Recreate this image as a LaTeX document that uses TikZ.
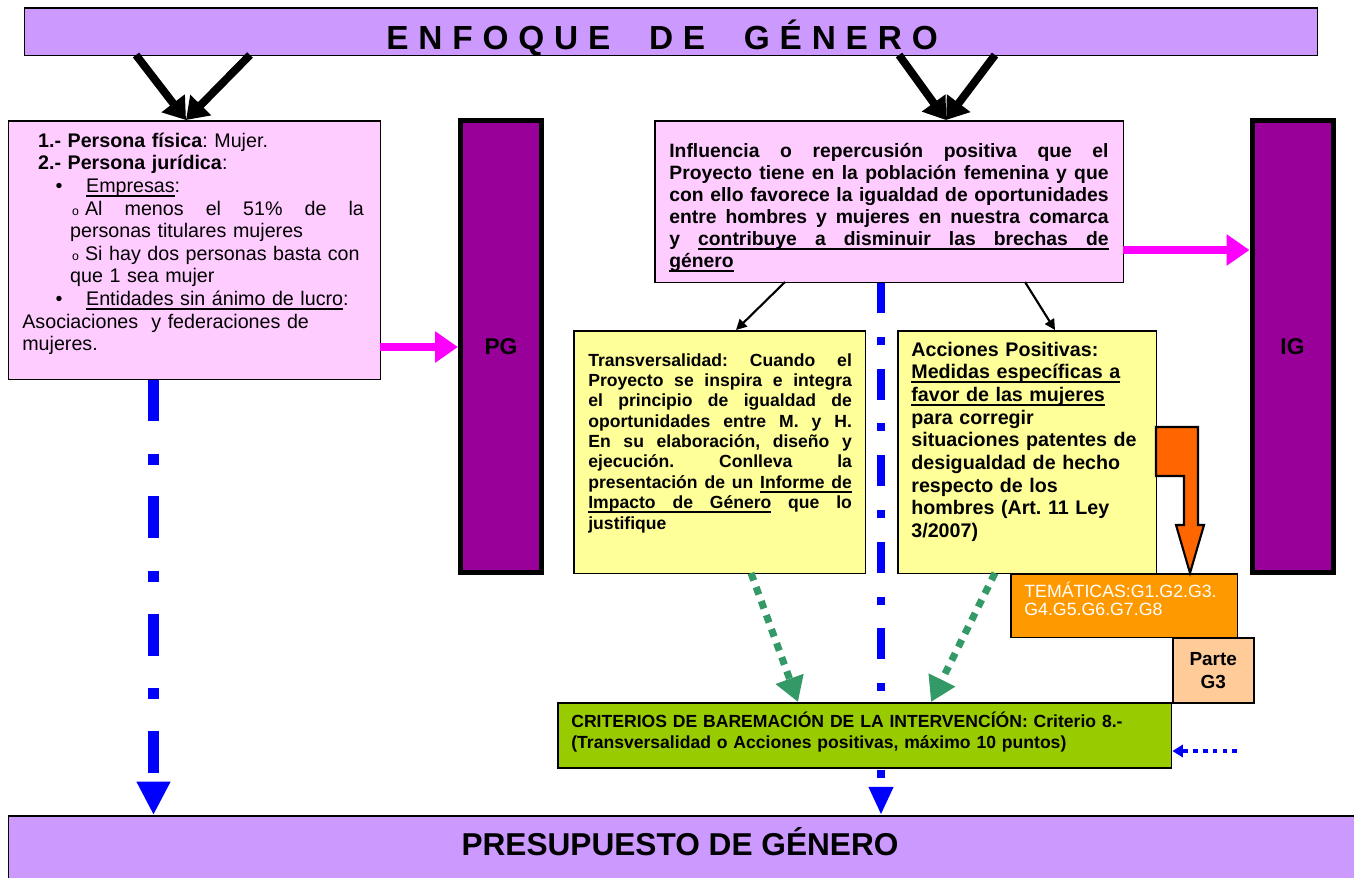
\documentclass[tikz,border=0pt]{standalone}
\usepackage{fontspec}
\setmainfont{Liberation Sans}
\usetikzlibrary{arrows.meta}

\definecolor{lila}{HTML}{CC99FF}
\definecolor{rosa}{HTML}{FFCCFF}
\definecolor{morado}{HTML}{990099}
\definecolor{amarillo}{HTML}{FFFF99}
\definecolor{naranja}{HTML}{FF9900}
\definecolor{naranjaosc}{HTML}{FF6600}
\definecolor{salmon}{HTML}{FFCC99}
\definecolor{verde}{HTML}{99CC00}
\definecolor{verdemar}{HTML}{339966}
\definecolor{fucsia}{HTML}{FF00FF}

\newcommand{\lsp}{\hspace{5.6pt}}
\newcommand{\wsp}{\hspace{22pt}}
\newcommand{\circulito}{\makebox[7.4pt][l]{\fontsize{7}{7}\selectfont o}}
% underlined word, and an underlined space that still stretches
\newcommand{\ulw}[1]{\leavevmode\setbox0\hbox{#1}\rlap{\vrule width\wd0 height -1.5pt depth 2.4pt}\box0\relax}
\newcommand{\ulsp}{\leaders\hrule height -1.5pt depth 2.4pt\hskip\fontdimen2\font plus\fontdimen3\font minus\fontdimen4\font\relax}

\begin{document}
\frenchspacing
\begin{tikzpicture}[x=0.02cm, y=-0.02cm,
    box/.style={draw=black, line width=0.85pt, inner sep=0pt, anchor=north west},
    bar/.style={draw=black, line width=2.85pt, fill=morado, inner sep=0pt,
        minimum width=1.62cm, minimum height=9.04cm, font=\fontsize{13}{13}\selectfont\bfseries},
    txt/.style={inner sep=0pt, anchor=base west},
    heavy/.style={line width=4.5pt, -{Triangle[length=12pt,width=16pt]}},
    magarrow/.style={draw=fucsia, line width=4.5pt, -{Triangle[length=13pt,width=17pt]}},
    slim/.style={line width=1.2pt, -{Triangle[length=6pt,width=6pt]}},
    dashdot/.style={draw=blue, line width=6.2pt,
        dash pattern=on 23.8pt off 18.7pt on 6.2pt off 18.1pt, -{Triangle[length=19pt,width=18pt]}},
    dashdotsmall/.style={draw=blue, line width=4.5pt,
        dash pattern=on 17.6pt off 13.6pt on 4.5pt off 13.6pt, -{Triangle[length=16pt,width=13pt]}},
    greenarrow/.style={draw=verdemar, line width=4pt, dash pattern=on 4.5pt off 4pt,
        -{Triangle[length=14pt,width=16pt]}},
    dotarrow/.style={draw=blue, line width=2.8pt, dash pattern=on 2.6pt off 3pt,
        -{Triangle[length=6pt,width=7pt]}},
]
\useasboundingbox (0,0) rectangle (1354,877);

% title
\node[box, fill=lila, minimum width=25.86cm, minimum height=0.96cm] (enfoque) at (24,7) {};
\node[txt, anchor=base, font=\fontsize{19}{19}\selectfont\bfseries] (enfoquetxt) at (662,49)
    {E\lsp N\lsp F\lsp O\lsp Q\lsp U\lsp E\wsp D\lsp E\wsp G\lsp É\lsp N\lsp E\lsp R\lsp O};

% bottom bar
\node[box, fill=lila, minimum width=27.2cm, minimum height=1.5cm] (presupuesto) at (8,815) {};
\node[txt, anchor=base, font=\fontsize{18}{18}\selectfont\bfseries] (presupuestotxt) at (680,855)
    {PRESUPUESTO DE GÉNERO};

% blue lines, behind the boxes
\coordinate (izq) at (153.5,379);
\coordinate (centro) at (881,282);
\draw[dashdot] (izq) -- (izq |- presupuesto.north);
\draw[dashdotsmall] (centro) -- (centro |- presupuesto.north);

% persona
\node[box, fill=rosa, minimum width=7.44cm, minimum height=5.18cm] (persona) at (8,120) {};
\node[txt, text width=205pt, align=left, font=\fontsize{11.2}{12.9}\selectfont] (personatxt) at (22,147) {%
\hspace*{9pt}\textbf{1.- Persona física}: Mujer.\\
\hspace*{9pt}\textbf{2.- Persona jurídica}:\\
\hspace*{19pt}\makebox[17.3pt][l]{\textbullet}\ulw{Empresas}:\\
\hspace*{28.3pt}\circulito\makebox[158.7pt][l]{Al\hfill menos\hfill el\hfill 51\%\hfill de\hfill la}\\
\hspace*{27.2pt}personas titulares mujeres\\
\hspace*{28.3pt}\circulito Si hay dos personas basta con\\
\hspace*{27.2pt}que 1 sea mujer\\
\hspace*{19pt}\makebox[17.3pt][l]{\textbullet}\ulw{Entidades sin ánimo de lucro}:\\
Asociaciones\ \ y federaciones de\\
mujeres.};

% PG and IG
\node[bar] (pg) at (501,346.5) {PG};
\node[bar] (ig) at (1292.5,346.5) {IG};

% influencia
\node[box, fill=rosa, minimum width=9.38cm, minimum height=3.24cm] (influencia) at (654,120) {};
\node[txt, text width=250pt, align=justify, font=\fontsize{11}{12.6}\selectfont\bfseries] (influenciatxt) at (669,157)
    {Influencia o repercusión positiva que el\linebreak
    Proyecto tiene en la población femenina y que\linebreak
    con ello favorece la igualdad de oportunidades\linebreak
    entre hombres y mujeres en nuestra comarca\linebreak
    y \ulw{contribuye}\ulsp\ulw{a}\ulsp\ulw{disminuir}\ulsp\ulw{las}\ulsp\ulw{brechas}\ulsp\ulw{de}\linebreak
    \ulw{género}};

% transversalidad
\node[box, fill=amarillo, minimum width=5.84cm, minimum height=4.86cm] (transv) at (573,330) {};
\node[txt, text width=150pt, align=justify, font=\fontsize{10}{11.6}\selectfont\bfseries] (transvtxt) at (588,366)
    {Transversalidad: Cuando el\linebreak
    Proyecto se inspira e integra\linebreak
    el principio de igualdad de\linebreak
    oportunidades entre M. y H.\linebreak
    En su elaboración, diseño y\linebreak
    ejecución. Conlleva la\linebreak
    presentación de un \ulw{Informe}\ulsp\ulw{de}\linebreak
    \ulw{Impacto}\ulsp\ulw{de}\ulsp\ulw{Género} que lo\linebreak
    justifique};

% acciones positivas
\node[box, fill=amarillo, minimum width=5.18cm, minimum height=4.86cm] (acciones) at (897,330) {};
\node[txt, text width=135pt, align=left, font=\fontsize{11.2}{12.9}\selectfont\bfseries] (accionestxt) at (911,356)
    {Acciones Positivas:\\
    \ulw{Medidas específicas a}\\
    \ulw{favor de las mujeres}\\
    para corregir\\
    situaciones patentes de\\
    desigualdad de hecho\\
    respecto de los\\
    hombres (Art. 11 Ley\\
    3/2007)};

% tematicas
\node[box, fill=naranja, minimum width=4.54cm, minimum height=1.28cm] (tematicas) at (1010,573) {};
\node[txt, text width=120pt, align=left, text=white, font=\fontsize{10.1}{10.8}\selectfont] (tematicastxt) at (1024,597)
    {TEMÁTICAS:G1.G2.G3.\\G4.G5.G6.G7.G8};

% parte G3
\node[box, fill=salmon, minimum width=1.62cm, minimum height=1.3cm] (parte) at (1172,637) {};
\node[align=center, inner sep=0pt, font=\fontsize{10.8}{13}\selectfont\bfseries] (partetxt) at (parte.center)
    {Parte\\G3};

% criterios
\node[box, fill=verde, minimum width=12.28cm, minimum height=1.3cm] (criterios) at (557,702) {};
\node[txt, text width=330pt, align=left, font=\fontsize{10}{12}\selectfont\bfseries] (criteriostxt) at (571,727)
    {CRITERIOS DE BAREMACIÓN DE LA INTERVENCÍÓN: Criterio 8.-\\
    (Transversalidad o Acciones positivas, máximo 10 puntos)};

% black arrows from the title
\coordinate (e1) at (136,55);
\coordinate (e2) at (250,55);
\coordinate (p1) at (186,120);
\coordinate (e3) at (899,55);
\coordinate (e4) at (995,55);
\coordinate (p2) at (946,120);
\draw[heavy] (e1) -- (p1);
\draw[heavy] (e2) -- (p1);
\draw[heavy] (e3) -- (p2);
\draw[heavy] (e4) -- (p2);

% magenta arrows
\coordinate (m1) at (380,347);
\coordinate (m2) at (1123,250);
\draw[magarrow] (m1) -- (m1 -| pg.west);
\draw[magarrow] (m2) -- (m2 -| ig.west);

% thin arrows to the yellow boxes
\coordinate (s1) at (785,282);
\coordinate (t1) at (736,330);
\coordinate (s2) at (1025,282);
\coordinate (t2) at (1055,330);
\draw[slim] (s1) -- (t1);
\draw[slim] (s2) -- (t2);

% green dotted arrows
\coordinate (g1) at (751,573);
\coordinate (h1) at (798,702);
\coordinate (g2) at (995,573);
\coordinate (h2) at (931,702);
\draw[greenarrow] (g1) -- (h1);
\draw[greenarrow] (g2) -- (h2);

% orange bent arrow
\filldraw[fill=naranjaosc, draw=black, line width=1.2pt]
    (1156,427) -- (1198,427) -- (1198,525) -- (1204,525) -- (1190,573)
    -- (1176,525) -- (1184,525) -- (1184,476) -- (1156,476) -- cycle;

% small blue dotted arrow
\coordinate (d1) at (1237,751);
\draw[dotarrow] (d1) -- (d1 -| criterios.east);
\end{tikzpicture}
\end{document}
